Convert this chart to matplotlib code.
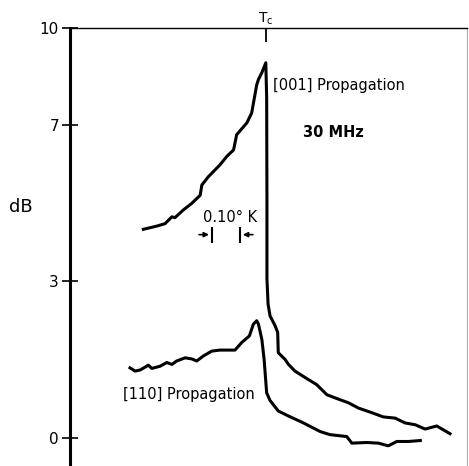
from matplotlib import pyplot as plt
import numpy as np

# temperature relative to Tc (K) and attenuation (dB)
t_001 = [-0.434, -0.386, -0.357, -0.333, -0.322, -0.293, -0.263, -0.233, -0.227,
         -0.204, -0.163, -0.139, -0.115, -0.104, -0.068, -0.051, -0.033, -0.027,
         -0.015, -0.001, 0.002, 0.003, 0.003, 0.007, 0.014, 0.032, 0.041,
         0.043, 0.067, 0.079, 0.102, 0.138, 0.179, 0.197, 0.215, 0.244, 0.291,
         0.326, 0.374, 0.414, 0.456, 0.491, 0.527, 0.562, 0.603, 0.650]
db_001 = [4.21, 4.29, 4.35, 4.52, 4.50, 4.69, 4.86, 5.07, 5.34,
          5.56, 5.88, 6.11, 6.29, 6.72, 7.06, 7.35, 8.20, 8.36,
          8.57, 8.88, 7.80, 4.99, 3.05, 2.49, 2.24, 2.035, 1.90,
          1.50, 1.37, 1.275, 1.15, 1.03, 0.90, 0.81, 0.72, 0.665, 0.58,
          0.49, 0.41, 0.34, 0.32, 0.24, 0.21, 0.14, 0.19, 0.065]

t_110 = [-0.481, -0.463, -0.445, -0.416, -0.404, -0.375, -0.351, -0.333, -0.316,
         -0.286, -0.263, -0.245, -0.222, -0.192, -0.163, -0.110, -0.086, -0.059,
         -0.045, -0.033, -0.027, -0.015, -0.007, 0.002, 0.014, 0.043, 0.079,
         0.132, 0.155, 0.191, 0.226, 0.285, 0.303, 0.356, 0.397, 0.432, 0.462,
         0.503, 0.545]
db_110 = [1.21, 1.15, 1.17, 1.26, 1.20, 1.24, 1.31, 1.275, 1.34,
          1.40, 1.38, 1.34, 1.435, 1.53, 1.55, 1.55, 1.70, 1.83,
          2.07, 2.14, 2.07, 1.76, 1.37, 0.755, 0.62, 0.44, 0.355,
          0.24, 0.185, 0.10, 0.05, 0.02, -0.084, -0.074, -0.084, -0.126, -0.058,
          -0.058, -0.043]

y_ticks = [0, 3, 7, 10]
bar_left = -0.192   # 0.10 K scale marker
bar_width = 0.10
bar_db = 4.08


def fwd(y):
    return np.sqrt(np.clip(np.asarray(y) + 3, 0, None))


def inv(s):
    return np.asarray(s) ** 2 - 3


fig = plt.figure(figsize=(4.69, 4.66), dpi=100)
ax = fig.add_axes([70 / 469, 0, 397 / 469, 438 / 466])

ax.plot(t_001, db_001, c="k", lw=2.2, solid_joinstyle="round")
ax.plot(t_110, db_110, c="k", lw=2.2, solid_joinstyle="round")

ax.set_yscale("function", functions=(fwd, inv))
ax.set_ylim(-0.43, 10)
ax.set_xlim(-0.693, 0.710)

ax.spines["bottom"].set_visible(False)
ax.spines["left"].set_linewidth(2.2)
ax.spines["top"].set_linewidth(1.0)
ax.spines["right"].set_linewidth(0.8)
ax.spines["right"].set_color("#b0b0b0")

ax.set_yticks(y_ticks)
ax.set_yticklabels([str(v) for v in y_ticks])
ax.yaxis.set_minor_locator(plt.NullLocator())
ax.tick_params(axis="y", direction="inout", length=12, width=1.2, pad=2, labelsize=11)

ax.xaxis.tick_top()
ax.set_xticks([0])
ax.set_xticklabels([r"T$_\mathrm{c}$"])
ax.tick_params(axis="x", direction="in", length=10, width=1.3, pad=1, labelsize=10)

ax.set_ylabel("dB", rotation=0, fontsize=13)
ax.yaxis.set_label_coords(-0.123, 0.571)

fs = 10.5
ax.text(0.025, 8.175, "[001] Propagation", fontsize=fs, va="center", ha="left")
ax.text(0.131, 6.77, "30 MHz", fontsize=fs, fontweight="bold", va="center", ha="left")
ax.text(-0.505, 0.724, "[110] Propagation", fontsize=fs, va="center", ha="left")
ax.text(-0.223, 4.50, "0.10° K", fontsize=fs, va="center", ha="left")

# scale marker arrows
ax.annotate("", xy=(bar_left, bar_db), xytext=(bar_left - 0.055, bar_db),
            arrowprops=dict(arrowstyle="-|>", color="k", lw=1.2, mutation_scale=7))
ax.annotate("", xy=(bar_left + bar_width, bar_db), xytext=(bar_left + bar_width + 0.055, bar_db),
            arrowprops=dict(arrowstyle="-|>", color="k", lw=1.2, mutation_scale=7))
ax.plot([bar_left, bar_left + bar_width], [bar_db, bar_db], ls="none",
        marker="|", ms=11, mew=1.5, c="k")

plt.savefig("out.png", dpi=100)
